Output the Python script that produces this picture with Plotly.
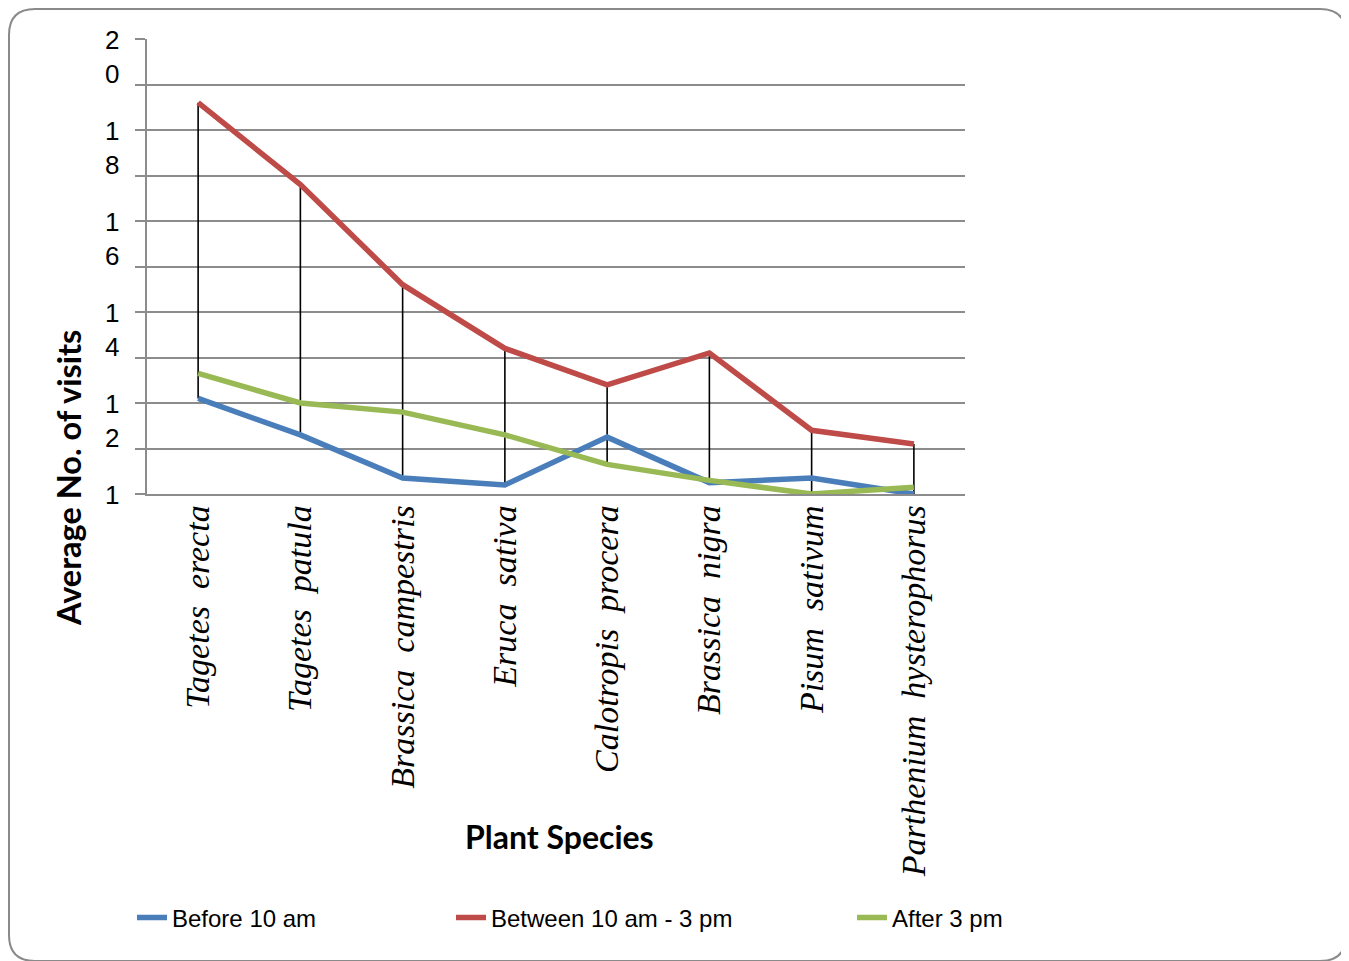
import plotly.graph_objects as go

categories = ["Tagetes erecta", "Tagetes patula", "Brassica campestris", "Eruca sativa",
              "Calotropis procera", "Brassica nigra", "Pisum sativum", "Parthenium hysterophorus"]
before_10 = [12.1, 11.3, 10.35, 10.2, 11.25, 10.25, 10.35, 10.0]
between_10_3 = [18.6, 16.8, 14.6, 13.2, 12.4, 13.1, 11.4, 11.1]
after_3 = [12.65, 12.0, 11.8, 11.3, 10.65, 10.3, 10.0, 10.15]
series_names = ["Before 10 am", "Between 10 am - 3 pm", "After 3 pm"]
series_colors = ["#4A7EBB", "#BE4B48", "#98B954"]
y_ticks = list(range(10, 21))
y_label_values = [20, 18, 16, 14, 12, 10]
y_label_texts = ["2<br>0", "1<br>8", "1<br>6", "1<br>4", "1<br>2", "1"]

OFF = 8  # page body margin
W, H = 1349 - OFF, 961 - OFF
# plot area in page pixels
L, R, T, B = 147, 965, 39, 494
pw, ph = R - L, B - T

def px(x):
    return (x - L) / pw

def py(y):
    return (B - y) / ph

fig = go.Figure()

# high-low lines
hx, hy = [], []
series = [before_10, between_10_3, after_3]
for i, c in enumerate(categories):
    vals = [s[i] for s in series]
    hx += [c, c, None]
    hy += [min(vals), max(vals), None]
fig.add_trace(go.Scatter(x=hx, y=hy, mode="lines", line=dict(color="black", width=1.6),
                         showlegend=False, hoverinfo="skip"))

legends = ["legend", "legend2", "legend3"]
for s, name, col, lg in zip(series, series_names, series_colors, legends):
    fig.add_trace(go.Scatter(x=categories, y=s, mode="lines", name=name,
                             line=dict(color=col, width=5.5), legend=lg))

annotations = []
for v, t in zip(y_label_values, y_label_texts):
    annotations.append(dict(x=px(112), xref="paper", y=v, yref="y", text=t, showarrow=False,
                            xanchor="center", yanchor="top", yshift=16,
                            font=dict(family="Liberation Sans", size=26, color="black")))
annotations.append(dict(x=px(559), y=py(836), xref="paper", yref="paper", text="<b>Plant Species</b>",
                        showarrow=False, xanchor="center", yanchor="middle",
                        font=dict(family="Lato", size=32, color="black")))
annotations.append(dict(x=px(68), y=py(478), xref="paper", yref="paper",
                        text="<b>Average No. of visits</b>", textangle=-90,
                        showarrow=False, xanchor="center", yanchor="middle",
                        font=dict(family="Lato", size=32.5, color="black")))

# rounded border (page pixels)
x0, y0, x1, y1, r = OFF + 1, OFF + 1, 1346, 961, 26
def P(x, y):
    return f"{px(x):.5f},{py(y):.5f}"
path = (f"M{P(x0 + r, y0)} L{P(x1 - r, y0)} Q{P(x1, y0)} {P(x1, y0 + r)} "
        f"L{P(x1, y1 - r)} Q{P(x1, y1)} {P(x1 - r, y1)} L{P(x0 + r, y1)} "
        f"Q{P(x0, y1)} {P(x0, y1 - r)} L{P(x0, y0 + r)} Q{P(x0, y0)} {P(x0 + r, y0)} Z")

legfont = dict(family="Liberation Sans", size=24, color="black")
def leg(xpix):
    return dict(x=px(xpix), y=py(918), xref="paper", yref="paper", xanchor="left", yanchor="middle",
                orientation="h", font=legfont, bgcolor="rgba(0,0,0,0)", borderwidth=0,
                itemwidth=30)

fig.update_layout(
    width=W, height=H,
    margin=dict(l=L - OFF, r=(W + OFF) - R, t=T - OFF, b=(H + OFF) - B, autoexpand=False),
    paper_bgcolor="white", plot_bgcolor="white",
    showlegend=True,
    legend=leg(132), legend2=leg(451), legend3=leg(852),
    xaxis=dict(type="category", categoryorder="array", categoryarray=categories,
               range=[-0.5, 7.5], showgrid=False, zeroline=False,
               showline=True, linecolor="#8C8C8C", linewidth=1.5, ticks="",
               tickangle=-90, ticklabelstandoff=-4,
               tickfont=dict(family="Liberation Serif", size=34, color="black", style="italic")),
    yaxis=dict(range=[10, 20], tickmode="array", tickvals=y_ticks, showticklabels=False,
               showgrid=True, gridcolor="#8C8C8C", gridwidth=1.5, zeroline=False,
               showline=True, linecolor="#8C8C8C", linewidth=1.5,
               ticks="outside", ticklen=10, tickcolor="#8C8C8C", tickwidth=1.5),
    annotations=annotations,
    shapes=[dict(type="path", path=path, xref="paper", yref="paper",
                 line=dict(color="#8A8A8A", width=2), layer="below")],
)
fig.update_xaxes(tickvals=categories,
                 ticktext=[c.replace(" ", "\u00a0 ") for c in categories])

fig.write_html("out.html")
